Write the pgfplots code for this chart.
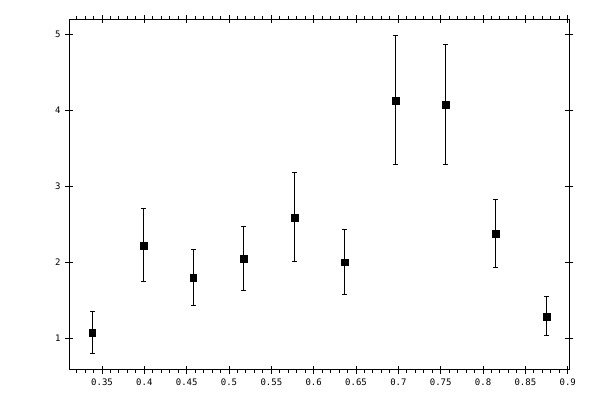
\documentclass[border=0pt]{standalone}
\usepackage{pgfplots}
\pgfplotsset{compat=1.18}
\usepackage{fontspec}
\setmonofont{DejaVu Sans Mono}

\pgfplotsset{
  boxaxis/.style={
    at={(52pt,22.7pt)}, anchor=south west,
    scale only axis,
    width=375pt, height=263pt,
    xmin=0.3114, xmax=0.9019,
    ymin=0.589, ymax=5.204,
    xtick={0.3,0.35,0.4,0.45,0.5,0.55,0.6,0.65,0.7,0.75,0.8,0.85,0.9},
    ytick={0.6,1,2,3,4,5,6},
    axis line style={line width=0.75pt},
    every tick/.style={black, line width=0.75pt},
  },
}

\begin{document}
\begin{tikzpicture}
\path[use as bounding box] (0,0) rectangle (450pt,300pt);

% minor ticks only, pointing outwards
\begin{axis}[
    boxaxis,
    xticklabels={}, yticklabels={},
    minor x tick num=4,
    minor y tick num=4,
    tick align=outside,
    major tick length=0pt,
    minor tick length=2.25pt,
]
\end{axis}

% major ticks cross the frame, labels and data
\begin{axis}[
    boxaxis,
    xtick={0.35,0.4,0.45,0.5,0.55,0.6,0.65,0.7,0.75,0.8,0.85,0.9},
    xticklabels={0.35,0.4,0.45,0.5,0.55,0.6,0.65,0.7,0.75,0.8,0.85,0.9},
    ytick={1,2,3,4,5},
    minor tick num=0,
    tick align=center,
    major tick length=6pt,
    /pgf/number format/assume math mode=true,
    tick label style={font=\ttfamily\fontsize{6.75}{8}\selectfont},
]
\addplot[
    only marks,
    mark=square*,
    mark size=2.6pt,
    mark options={black},
    error bars/.cd,
      y dir=both, y explicit,
      error mark options={rotate=90, mark size=1.7pt, line width=0.75pt},
      error bar style={line width=0.75pt, black},
    ]
    coordinates {
    (0.3385,1.080) +- (0,0.277)
    (0.3988,2.226) +- (0,0.480)
    (0.4578,1.805) +- (0,0.369)
    (0.5169,2.055) +- (0,0.421)
    (0.5771,2.595) +- (0,0.585)
    (0.6362,2.003) +- (0,0.430)
    (0.6964,4.134) +- (0,0.850)
    (0.7555,4.082) +- (0,0.790)
    (0.8146,2.384) +- (0,0.446)
    (0.8749,1.292) +- (0,0.255)
    };
\end{axis}
\end{tikzpicture}
\end{document}
